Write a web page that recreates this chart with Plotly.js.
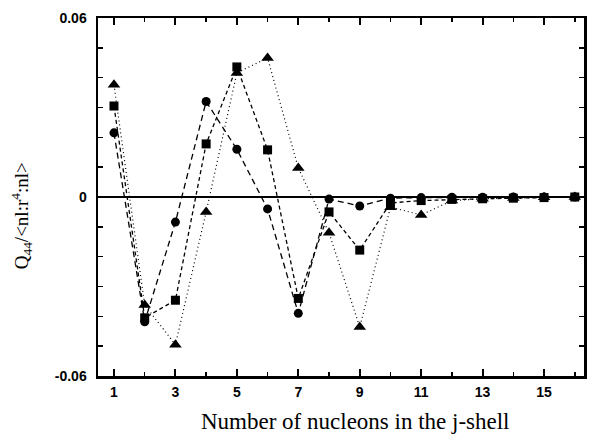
<!DOCTYPE html>
<html>
<head>
<meta charset="utf-8">
<script src="https://cdn.plot.ly/plotly-3.0.1.min.js"></script>
<style>html,body{margin:0;padding:0;background:#fff;}#chart{width:589px;height:436px;}</style>
</head>
<body>
<div id="chart"></div>
<script>
const nucleons = [1,2,3,4,5,6,7,8,9,10,11,12,13,14,15,16];
const circleVals = [0.0215,-0.0418,-0.0084,0.0320,0.0160,-0.0040,-0.0390,-0.0007,-0.0030,-0.0004,-0.0002,-0.0001,-0.0001,0.0000,0.0000,0.0000];
const squareVals = [0.0305,-0.0405,-0.0346,0.0178,0.0436,0.0158,-0.0340,-0.0050,-0.0178,-0.0020,-0.0012,-0.0008,-0.0006,-0.0004,-0.0002,0.0000];
const triangleVals = [0.0376,-0.0362,-0.0495,-0.0050,0.0416,0.0466,0.0097,-0.0120,-0.0436,-0.0034,-0.0060,-0.0012,-0.0006,-0.0003,-0.0001,0.0000];
const yTickVals = [-0.06, 0, 0.06];
const yTickText = ['-0.06', '0', '0.06'];
const xTitle = 'Number of nucleons in the j-shell';
const yTitle = 'Q<sub>44</sub>/&lt;nl:r<sup>4</sup>:nl&gt;';

const traces = [
  {x: nucleons, y: triangleVals, mode: 'lines+markers', type: 'scatter',
   line: {color: '#000', width: 1.2, dash: '1px,3px'},
   marker: {symbol: 'triangle-up', size: 11, color: '#000'}},
  {x: nucleons, y: squareVals, mode: 'lines+markers', type: 'scatter',
   line: {color: '#000', width: 1.3, dash: '4px,3px'},
   marker: {symbol: 'square', size: 9, color: '#000'}},
  {x: nucleons, y: circleVals, mode: 'lines+markers', type: 'scatter',
   line: {color: '#000', width: 1.3, dash: '6px,4px'},
   marker: {symbol: 'circle', size: 9, color: '#000'}}
];

const titleFont = {family: 'Liberation Serif, Times New Roman, serif', color: '#000'};

const layout = {
  width: 589, height: 436,
  margin: {l: 98, r: 5, t: 18, b: 60},
  paper_bgcolor: '#fff', plot_bgcolor: '#fff',
  showlegend: false,
  xaxis: {
    range: [0.48, 16.3], tick0: 1, dtick: 2, ticks: 'inside', ticklen: 7, tickwidth: 2,
    tickcolor: '#000', showgrid: false, zeroline: false,
    showline: true, linecolor: '#000', linewidth: 2.5, mirror: 'allticks',
    ticklabelstandoff: 2,
    minor: {dtick: 1, tick0: 0, ticks: 'inside', ticklen: 4, tickwidth: 1.5, tickcolor: '#000', showgrid: false},
    tickfont: {family: 'Liberation Sans, Arial, sans-serif', size: 14, color: '#000', weight: 'bold'}
  },
  yaxis: {
    range: [-0.06, 0.06], tickvals: yTickVals, ticktext: yTickText, ticks: 'inside', ticklen: 5, tickwidth: 1.5,
    tickcolor: '#000', showgrid: false,
    zeroline: true, zerolinecolor: '#000', zerolinewidth: 1.5,
    showline: true, linecolor: '#000', linewidth: 2.5, mirror: 'allticks',
    ticklabelstandoff: 6,
    minor: {dtick: 0.01, tick0: 0, ticks: 'inside', ticklen: 5, tickwidth: 1.5, tickcolor: '#000', showgrid: false},
    tickfont: {family: 'Liberation Sans, Arial, sans-serif', size: 14, color: '#000', weight: 'bold'}
  },
  annotations: [
    {text: xTitle, xref: 'paper', yref: 'paper', x: 0.529, y: -0.128, xanchor: 'center', yanchor: 'middle',
     showarrow: false, font: Object.assign({size: 23}, titleFont)},
    {text: yTitle, xref: 'paper', yref: 'paper', x: -0.156, y: 0.447, xanchor: 'center', yanchor: 'middle',
     textangle: -90, showarrow: false, font: Object.assign({size: 19}, titleFont)}
  ]
};

Plotly.newPlot('chart', traces, layout, {staticPlot: true, displayModeBar: false});
</script>
</body>
</html>
